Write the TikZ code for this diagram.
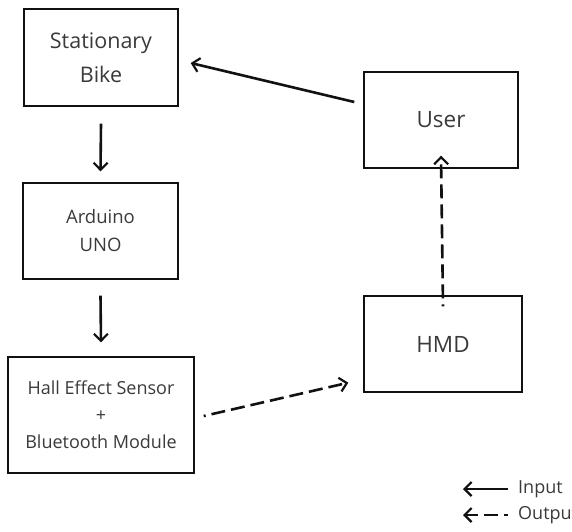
\documentclass[tikz,border=0pt]{standalone}
\usepackage{fontspec}
\setmainfont{Open Sans}
\usetikzlibrary{arrows.meta,calc}
\definecolor{ink}{HTML}{111111}
\definecolor{txt}{HTML}{3A3A3A}
\tikzset{
  boxbase/.style={draw=ink, line width=1.4pt, align=center, text=txt, inner sep=0pt},
  flow/.style={-{Straight Barb[length=7pt,width=14pt,line width=2.2pt]}, line width=2.6pt, draw=ink},
  flowdash/.style={flow, dash pattern=on 14pt off 6pt, dash phase=12pt}
}

\begin{document}
\begin{tikzpicture}[x=1pt,y=-1pt]
\useasboundingbox (0,0) rectangle (572,531);

% Blocks
\node[boxbase, minimum width=154pt, minimum height=97pt, font=\fontsize{21.5}{34}\selectfont] (bike) at (101,57.5) {Stationary\\Bike};
\node[boxbase, minimum width=155pt, minimum height=96pt, font=\fontsize{18.5}{28}\selectfont] (arduino) at (100.5,231) {Arduino\\UNO};
\node[boxbase, minimum width=186pt, minimum height=116pt, font=\fontsize{18}{27}\selectfont] (hall) at (101,415) {Hall Effect Sensor\\+\\Bluetooth Module};
\node[boxbase, minimum width=154pt, minimum height=96pt, font=\fontsize{22.5}{28}\selectfont] (user) at (441,120) {User};
\node[boxbase, minimum width=158pt, minimum height=96pt, font=\fontsize{22.5}{28}\selectfont] (hmd) at (443,344) {HMD};

% Input path
\draw[flow] ([yshift=-17pt]bike.south) -- ([yshift=11pt]arduino.north);
\draw[flow] ([yshift=-16pt]arduino.south) -- ([yshift=14pt]hall.north);
\draw[flow] ($(user.west)+(-9,-18)$) -- ($(bike.east)+(12,5.5)$);

% Output path
\draw[flowdash] ($(hall.east)+(9,1)$) -- ($(hmd.south west)+(-15,-10)$);
\draw[flowdash] ([yshift=-11pt]hmd.north) -- ([yshift=13pt]user.south);

% Legend
\coordinate (inR) at (508,489);
\coordinate (inL) at (463,489);
\coordinate (outR) at (508,515);
\coordinate (outL) at (463,515);
\draw[flow] (inR) -- (inL);
\draw[flowdash, dash phase=10pt] (outR) -- (outL);
\node[anchor=west, text=txt, font=\fontsize{18}{20}\selectfont, inner sep=0pt] (inlab) at (518,489) {Input};
\node[anchor=west, text=txt, font=\fontsize{18}{20}\selectfont, inner sep=0pt] (outlab) at (518,515) {Output};
\end{tikzpicture}
\end{document}
